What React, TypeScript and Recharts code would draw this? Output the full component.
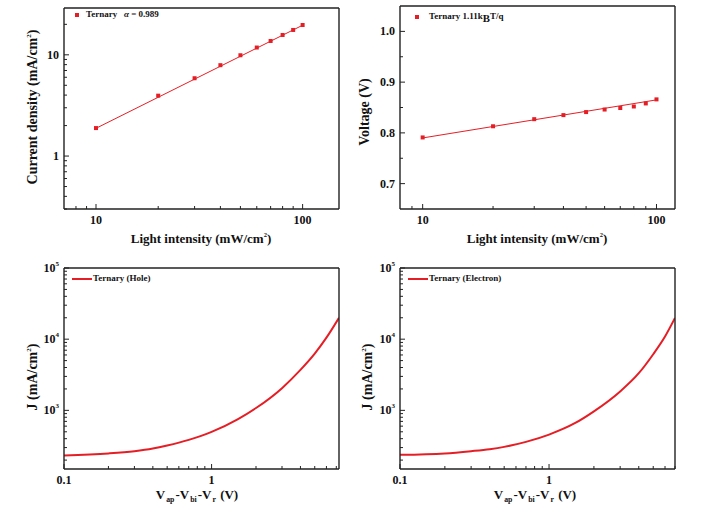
import React from 'react';
import { ComposedChart, Line, Scatter, XAxis, YAxis } from 'recharts';

// light-intensity dependence (top row)
const intensity = [10, 20, 30, 40, 50, 60, 70, 80, 90, 100];
const jscValues = [1.89, 3.95, 5.87, 7.9, 9.9, 11.8, 13.7, 15.7, 17.6, 19.7];
const vocValues = [0.791, 0.813, 0.827, 0.835, 0.841, 0.846, 0.849, 0.852, 0.858, 0.866];
const fitIntensity = [10, 100];
const jscFit = [1.88, 19.6];
const vocFit = [0.79, 0.865];

// SCLC curves (bottom row)
const biasHole = [0.1, 0.2, 0.3, 0.4, 0.5, 0.7, 1, 1.5, 2, 3, 4, 5, 6, 7.3];
const jHole = [232, 248, 267, 291, 321, 385, 498, 748, 1078, 2052, 3703, 6270, 10500, 19990];
const biasElectron = [0.1, 0.2, 0.3, 0.4, 0.5, 0.7, 1, 1.5, 2, 3, 4, 5, 6, 7];
const jElectron = [237, 248, 267, 285, 307, 361, 457, 665, 968, 1845, 3325, 6150, 10900, 19900];

// ticks
const intensityMajor = [10, 100];
const intensityTicks = [8, 9, 10, 20, 30, 40, 50, 60, 70, 80, 90, 100];
const jscMajor = [1, 10];
const jscTicks = [0.3, 0.4, 0.5, 0.6, 0.7, 0.8, 0.9, 1, 2, 3, 4, 5, 6, 7, 8, 9, 10, 20];
const vocMajor = [0.7, 0.8, 0.9, 1.0];
const vocTicks = [0.7, 0.75, 0.8, 0.85, 0.9, 0.95, 1.0];
const biasMajor = [0.1, 1];
const biasTicks = [0.1, 0.2, 0.3, 0.4, 0.5, 0.6, 0.7, 0.8, 0.9, 1, 2, 3, 4, 5, 6, 7];
const jMajor = [1000, 10000, 100000];
const jTicks = [
  200, 300, 400, 500, 600, 700, 800, 900, 1000, 2000, 3000, 4000, 5000, 6000, 7000, 8000, 9000,
  10000, 20000, 30000, 40000, 50000, 60000, 70000, 80000, 90000, 100000,
];

const toRows = (xs: number[], ys: number[]) => xs.map((x, i) => ({ x, y: ys[i] }));

const FONT = '"Times New Roman", "Liberation Serif", "DejaVu Serif", serif';
const AXIS = '#222';
const RED = '#e51e25';

const powLabel = (v: number) => (
  <>
    10
    <tspan dy={-6} fontSize={7}>
      {Math.round(Math.log10(v))}
    </tspan>
  </>
);

function makeXTick(majors: number[], fmt: (v: number) => React.ReactNode) {
  return (props: any) => {
    const { x, y, payload } = props;
    const major = majors.includes(payload.value);
    return (
      <g>
        <line x1={x} x2={x} y1={y} y2={y - (major ? 5 : 3)} stroke={AXIS} strokeWidth={1} />
        {major && (
          <text x={x} y={y + 15} textAnchor="middle" fontFamily={FONT} fontWeight="bold" fontSize={12} fill="#111">
            {fmt(payload.value)}
          </text>
        )}
      </g>
    );
  };
}

function makeYTick(majors: number[], fmt: (v: number) => React.ReactNode) {
  return (props: any) => {
    const { x, y, payload } = props;
    const major = majors.includes(payload.value);
    return (
      <g>
        <line x1={x} x2={x + (major ? 5 : 3)} y1={y} y2={y} stroke={AXIS} strokeWidth={1} />
        {major && (
          <text x={x - 5} y={y + 4} textAnchor="end" fontFamily={FONT} fontWeight="bold" fontSize={12} fill="#111">
            {fmt(payload.value)}
          </text>
        )}
      </g>
    );
  };
}

interface PanelProps {
  left: number;
  top: number;
  width: number;
  height: number;
  plot: { top: number; right: number; bottom: number; left: number };
  xDomain: [number, number];
  yDomain: [number, number];
  yLog: boolean;
  xTicks: number[];
  xTick: (p: any) => React.ReactElement;
  yTicks: number[];
  yTick: (p: any) => React.ReactElement;
  children: React.ReactNode;
}

// plot gives the distance of the frame from each edge of the chart box
function Panel(p: PanelProps) {
  const margin = {
    top: p.plot.top - 1,
    right: p.plot.right - 1,
    bottom: p.plot.bottom - 30,
    left: p.plot.left - 40,
  };
  return (
    <div style={{ position: 'absolute', left: p.left, top: p.top }}>
      <ComposedChart width={p.width} height={p.height} margin={margin}>
        <XAxis
          dataKey="x"
          type="number"
          scale="log"
          domain={p.xDomain}
          allowDataOverflow
          ticks={p.xTicks}
          interval={0}
          height={30}
          tickSize={0}
          tickMargin={0}
          tick={p.xTick}
          axisLine={{ stroke: AXIS, strokeWidth: 1.4 }}
        />
        <XAxis
          xAxisId="top"
          orientation="top"
          type="number"
          scale="log"
          domain={p.xDomain}
          allowDataOverflow
          height={1}
          tick={false}
          tickLine={false}
          axisLine={{ stroke: AXIS, strokeWidth: 1.4 }}
        />
        <YAxis
          dataKey="y"
          type="number"
          scale={p.yLog ? 'log' : 'linear'}
          domain={p.yDomain}
          allowDataOverflow
          ticks={p.yTicks}
          interval={0}
          width={40}
          tickSize={0}
          tickMargin={0}
          tick={p.yTick}
          axisLine={{ stroke: AXIS, strokeWidth: 1.4 }}
        />
        <YAxis
          yAxisId="right"
          orientation="right"
          type="number"
          domain={p.yDomain}
          allowDataOverflow
          width={1}
          tick={false}
          tickLine={false}
          axisLine={{ stroke: AXIS, strokeWidth: 1.4 }}
        />
        {p.children}
      </ComposedChart>
    </div>
  );
}

const textStyle: React.CSSProperties = {
  position: 'absolute',
  fontFamily: FONT,
  fontWeight: 'bold',
  color: '#111',
  whiteSpace: 'nowrap',
  lineHeight: 1,
};

function Title({ x, y, vertical, size = 13, children }: { x: number; y: number; vertical?: boolean; size?: number; children: React.ReactNode }) {
  return (
    <div
      style={{
        ...textStyle,
        left: x,
        top: y,
        fontSize: size,
        transform: vertical ? 'translate(-50%, -50%) rotate(-90deg)' : 'translate(-50%, -50%)',
      }}
    >
      {children}
    </div>
  );
}

function LegendText({ x, y, children }: { x: number; y: number; children: React.ReactNode }) {
  return <div style={{ ...textStyle, left: x, top: y - 5, fontSize: 9 }}>{children}</div>;
}

const sub: React.CSSProperties = { fontSize: '0.6em', verticalAlign: '-0.35em', marginLeft: 1, marginRight: 1 };
const sup: React.CSSProperties = { fontSize: '0.5em', verticalAlign: '0.9em' };

export default function App() {
  const square = (props: any) => <rect x={props.cx - 2} y={props.cy - 2} width={4} height={4} fill={RED} />;
  return (
    <div style={{ position: 'absolute', left: 0, top: 0, width: 715, height: 520, background: '#fff' }}>
      <Panel
        left={0}
        top={0}
        width={357}
        height={255}
        plot={{ top: 8, right: 18, bottom: 46, left: 64 }}
        xDomain={[7, 150]}
        yDomain={[0.3, 29]}
        yLog
        xTicks={intensityTicks}
        xTick={makeXTick(intensityMajor, (v) => String(v))}
        yTicks={jscTicks}
        yTick={makeYTick(jscMajor, (v) => String(v))}
      >
        <Line data={toRows(fitIntensity, jscFit)} dataKey="y" stroke={RED} strokeWidth={1} dot={false} isAnimationActive={false} />
        <Scatter data={toRows(intensity, jscValues)} dataKey="y" fill={RED} shape={square} isAnimationActive={false} />
      </Panel>

      <Panel
        left={357}
        top={0}
        width={358}
        height={255}
        plot={{ top: 6, right: 40, bottom: 46, left: 43 }}
        xDomain={[8, 120]}
        yDomain={[0.65, 1.05]}
        yLog={false}
        xTicks={intensityTicks.filter((t) => t >= 9)}
        xTick={makeXTick(intensityMajor, (v) => String(v))}
        yTicks={vocTicks}
        yTick={makeYTick(vocMajor, (v) => v.toFixed(1))}
      >
        <Line data={toRows(fitIntensity, vocFit)} dataKey="y" stroke={RED} strokeWidth={1} dot={false} isAnimationActive={false} />
        <Scatter data={toRows(intensity, vocValues)} dataKey="y" fill={RED} shape={square} isAnimationActive={false} />
      </Panel>

      <Panel
        left={0}
        top={255}
        width={357}
        height={265}
        plot={{ top: 13, right: 18, bottom: 51, left: 64 }}
        xDomain={[0.1, 7.3]}
        yDomain={[150, 100000]}
        yLog
        xTicks={biasTicks}
        xTick={makeXTick(biasMajor, (v) => String(v))}
        yTicks={jTicks}
        yTick={makeYTick(jMajor, powLabel)}
      >
        <Line data={toRows(biasHole, jHole)} dataKey="y" type="monotone" stroke={RED} strokeWidth={2} dot={false} isAnimationActive={false} />
      </Panel>

      <Panel
        left={357}
        top={255}
        width={358}
        height={265}
        plot={{ top: 13, right: 40, bottom: 51, left: 43 }}
        xDomain={[0.1, 7]}
        yDomain={[150, 100000]}
        yLog
        xTicks={biasTicks}
        xTick={makeXTick(biasMajor, (v) => String(v))}
        yTicks={jTicks}
        yTick={makeYTick(jMajor, powLabel)}
      >
        <Line data={toRows(biasElectron, jElectron)} dataKey="y" type="monotone" stroke={RED} strokeWidth={2} dot={false} isAnimationActive={false} />
      </Panel>

      {/* legends */}
      <div style={{ position: 'absolute', left: 75, top: 13, width: 4, height: 4, background: RED }} />
      <LegendText x={86} y={15}>
        Ternary&nbsp;&nbsp;&nbsp;<i>α</i> = 0.989
      </LegendText>
      <div style={{ position: 'absolute', left: 415, top: 15, width: 4, height: 4, background: RED }} />
      <LegendText x={429} y={17}>
        Ternary&nbsp;1.11k<span style={{ fontSize: '1.2em', verticalAlign: '-0.3em' }}>B</span>T/q
      </LegendText>
      <div style={{ position: 'absolute', left: 72, top: 278, width: 20, height: 2, background: RED }} />
      <LegendText x={93} y={279}>
        Ternary (Hole)
      </LegendText>
      <div style={{ position: 'absolute', left: 408, top: 278, width: 20, height: 2, background: RED }} />
      <LegendText x={429} y={279}>
        Ternary (Electron)
      </LegendText>

      {/* axis titles */}
      <Title x={201} y={238}>
        Light intensity (mW/cm<span style={sup}>2</span>)
      </Title>
      <Title x={537} y={238}>
        Light intensity (mW/cm<span style={sup}>2</span>)
      </Title>
      <Title x={33} y={107} vertical size={14}>
        Current density (mA/cm<span style={sup}>2</span>)
      </Title>
      <Title x={365} y={112} vertical size={14}>
        Voltage (V)
      </Title>
      <Title x={33} y={377} vertical size={14}>
        J (mA/cm<span style={sup}>2</span>)
      </Title>
      <Title x={368} y={377} vertical size={14}>
        J (mA/cm<span style={sup}>2</span>)
      </Title>
      <Title x={197} y={496}>
        V<span style={sub}>ap</span>-V<span style={sub}>bi</span>-V<span style={sub}>r</span> (V)
      </Title>
      <Title x={535} y={496}>
        V<span style={sub}>ap</span>-V<span style={sub}>bi</span>-V<span style={sub}>r</span> (V)
      </Title>
    </div>
  );
}
